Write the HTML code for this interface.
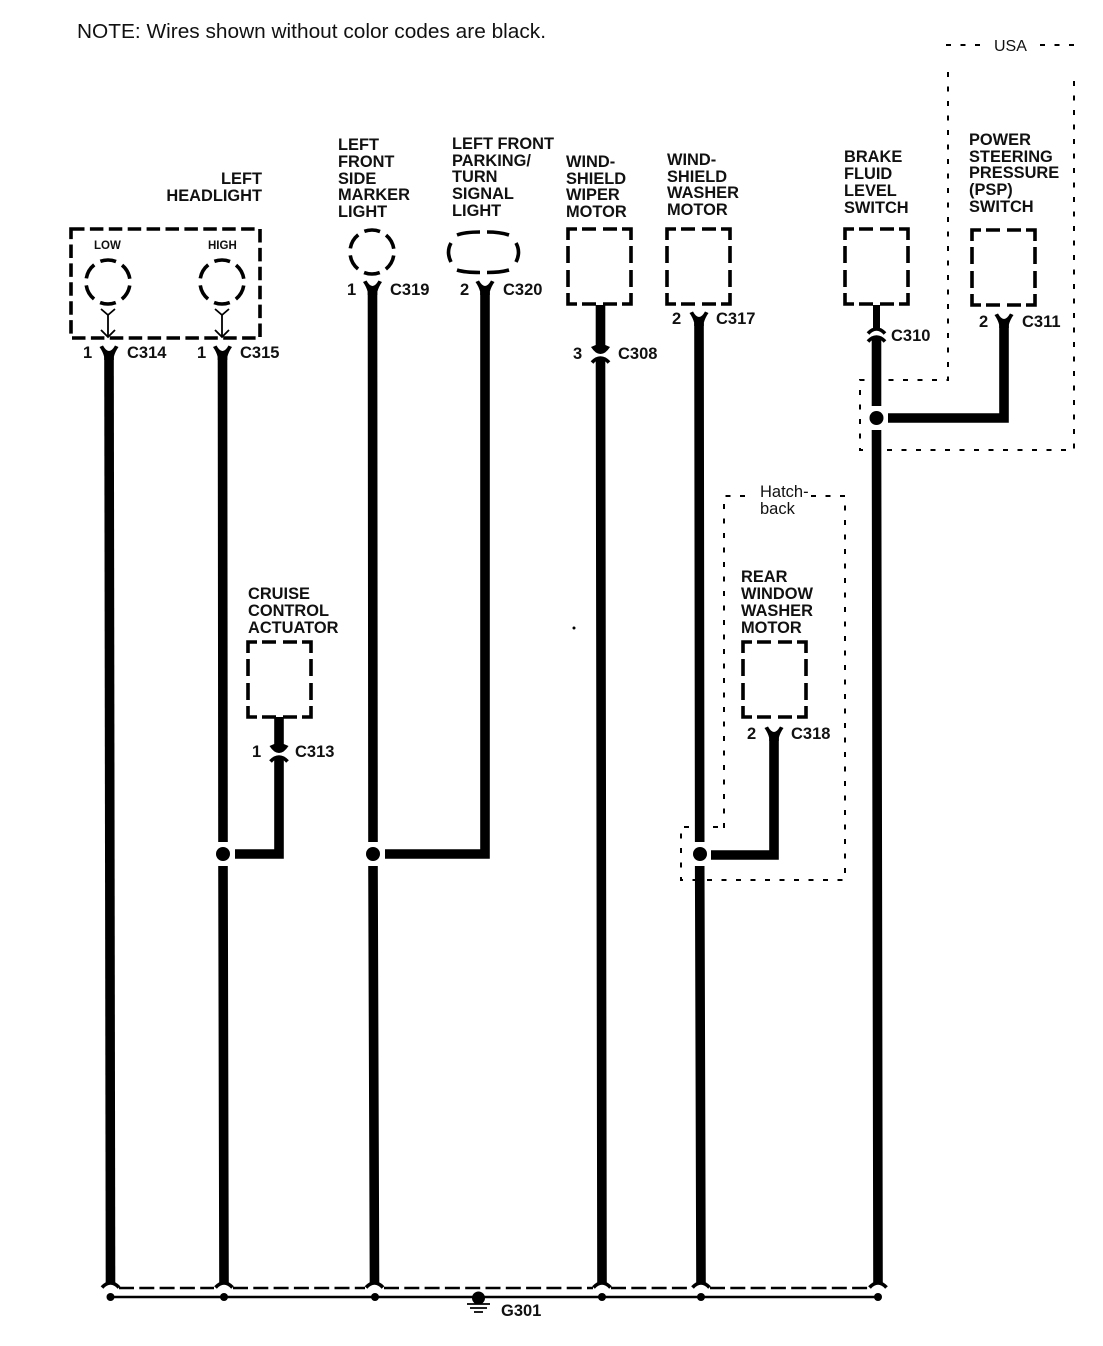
<!DOCTYPE html>
<html><head><meta charset="utf-8"><style>
html,body{margin:0;padding:0;background:#fff}
svg{display:block}
text{font-family:"Liberation Sans",sans-serif;fill:#111}
.b{font-weight:bold;font-size:16.4px}
.c{font-weight:bold;font-size:16.5px}
.w{stroke:#000;fill:none;stroke-width:9.600}
.box{stroke:#000;fill:none;stroke-width:3.600;stroke-dasharray:13.500 5.400}
.circ{stroke:#000;fill:none;stroke-width:3.600;stroke-dasharray:16 7.040;stroke-dashoffset:19.500}
.d{stroke:#000;fill:none;stroke-width:2;stroke-dasharray:5 9.500}
</style></head><body>
<svg width="1103" height="1346" viewBox="0 0 1103 1346" xmlns="http://www.w3.org/2000/svg">
<defs>
<path id="yy" d="M-9.500,-4 L-6,-5.500 Q-3,0 0,0 Q3,0 6,-5.500 L9.500,-4 Q6,1 4.800,6 V9 H-4.800 V6 Q-6,1 -9.500,-4Z" fill="#000"/>
<path id="uu" d="M-9.500,-7 Q-5,0 0,0 Q5,0 9.500,-7 L4.800,-9 H-4.800Z" fill="#000"/>
<path id="ff" d="M-8.500,4.500 Q-4.500,0 0,0 Q4.500,0 8.500,4.500" stroke="#000" stroke-width="3.600" fill="none"/>
<path id="bx" fill="none" stroke="#000" stroke-width="3.600" d="M0,11V0H9M14,0H28M35,0H49M54,0H63V11M63,17V34M63,41V58M63,64V75H54M49,75H35M28,75H14M9,75H0V64M0,58V41M0,34V17"/>
</defs>
<text x="77" y="38" font-size="20.600" textLength="469" lengthAdjust="spacingAndGlyphs">NOTE: Wires shown without color codes are black.</text>

<!-- USA dashed -->
<path class="d" d="M946,45H985M1040,45H1074"/>
<path class="d" d="M948,72V380H860V450H1074V72"/>
<text x="994" y="51" font-size="16">USA</text>

<!-- Hatchback dashed -->
<path class="d" d="M724,828V496H752M811,496H845V880H681V827H724"/>
<text x="760" y="497" font-size="16.500">Hatch-</text>
<text x="760" y="514" font-size="16.500">back</text>

<!-- Labels -->
<g class="b">
<text x="262" y="184" text-anchor="end">LEFT</text>
<text x="262" y="201" text-anchor="end">HEADLIGHT</text>
<text x="338" y="150">LEFT</text><text x="338" y="167">FRONT</text><text x="338" y="184">SIDE</text><text x="338" y="200">MARKER</text><text x="338" y="217">LIGHT</text>
<text x="452" y="149">LEFT FRONT</text><text x="452" y="166">PARKING/</text><text x="452" y="182">TURN</text><text x="452" y="199">SIGNAL</text><text x="452" y="216">LIGHT</text>
<text x="566" y="167">WIND-</text><text x="566" y="184">SHIELD</text><text x="566" y="200">WIPER</text><text x="566" y="217">MOTOR</text>
<text x="667" y="165">WIND-</text><text x="667" y="182">SHIELD</text><text x="667" y="198">WASHER</text><text x="667" y="215">MOTOR</text>
<text x="844" y="162">BRAKE</text><text x="844" y="179">FLUID</text><text x="844" y="196">LEVEL</text><text x="844" y="213">SWITCH</text>
<text x="969" y="145">POWER</text><text x="969" y="162">STEERING</text><text x="969" y="178">PRESSURE</text><text x="969" y="195">(PSP)</text><text x="969" y="212">SWITCH</text>
<text x="248" y="599">CRUISE</text><text x="248" y="616">CONTROL</text><text x="248" y="633">ACTUATOR</text>
<text x="741" y="582">REAR</text><text x="741" y="599">WINDOW</text><text x="741" y="616">WASHER</text><text x="741" y="633">MOTOR</text>
</g>
<text x="94" y="249" font-size="11.500" font-weight="bold">LOW</text>
<text x="208" y="249" font-size="11.500" font-weight="bold">HIGH</text>

<!-- Component outlines -->
<rect class="box" x="71" y="229" width="189" height="109"/>
<circle class="circ" cx="108" cy="282" r="22"/>
<circle class="circ" cx="222" cy="282" r="22"/>
<circle class="circ" cx="372" cy="252" r="22"/>
<path d="M457,235Q465,232 480,232M487,232Q500,232 509,235M457,270Q465,272.500 480,272.500M487,272.500Q500,272.500 509,270M451,243Q446,252 451,262M516,243Q521,252 516,262" stroke="#000" stroke-width="3.600" fill="none"/>
<use href="#bx" x="568" y="229"/>
<use href="#bx" x="667" y="229"/>
<use href="#bx" x="845" y="229"/>
<use href="#bx" x="972" y="230"/>
<use href="#bx" x="248" y="642"/>
<use href="#bx" x="743" y="642"/>

<!-- Headlight inner connectors -->
<g stroke="#000" stroke-width="1.800" fill="none">
<path d="M101,309L108,315L115,309M108,315V337M101,330L108,337L115,330"/>
<path d="M215,309L222,315L229,309M222,315V337M215,330L222,337L229,330"/>
</g>

<!-- Thick wires -->
<path class="w" d="M109,356L110.500,1284"/>
<path class="w" d="M222.500,356L223,842M223,866L224,1284"/>
<path class="w" d="M372.500,292L373,842M373,866L374.500,1284"/>
<path class="w" d="M485,292V854H385"/>
<path class="w" d="M600.500,305V345M600.500,358L602,1284"/>
<path class="w" d="M699,323L699.700,842M699.700,866L701,1284"/>
<path class="w" d="M876.500,338V406M876.500,430L878,1284"/>
<path class="w" d="M876.500,305V328" style="stroke-width:7"/>
<path class="w" d="M1004,323V418H888"/>
<path class="w" d="M279,717V745M279,758V854H235"/>
<path class="w" d="M774,735V855H711"/>

<!-- Connector symbols -->
<use href="#yy" x="109" y="351"/><use href="#yy" x="222.500" y="351"/>
<use href="#yy" x="372.500" y="286"/><use href="#yy" x="485" y="286"/>
<use href="#yy" x="699" y="317"/><use href="#yy" x="1004" y="319"/>
<use href="#yy" x="774" y="732"/>
<use href="#uu" x="600.500" y="354"/><use href="#ff" x="600.500" y="358"/>
<use href="#uu" x="279" y="753"/><use href="#ff" x="279" y="757"/>
<use href="#ff" x="876.500" y="329"/><use href="#ff" x="876.500" y="337"/>

<!-- Connector labels -->
<g class="c">
<text x="83" y="358">1</text><text x="127" y="358">C314</text>
<text x="197" y="358">1</text><text x="240" y="358">C315</text>
<text x="347" y="295">1</text><text x="390" y="295">C319</text>
<text x="460" y="295">2</text><text x="503" y="295">C320</text>
<text x="573" y="359">3</text><text x="618" y="359">C308</text>
<text x="672" y="324">2</text><text x="716" y="324">C317</text>
<text x="891" y="341">C310</text>
<text x="979" y="327">2</text><text x="1022" y="327">C311</text>
<text x="252" y="757">1</text><text x="295" y="757">C313</text>
<text x="747" y="739">2</text><text x="791" y="739">C318</text>
<text x="501" y="1316">G301</text>
</g>

<!-- Junctions -->
<circle cx="876.500" cy="418" r="7"/>
<circle cx="223" cy="854" r="7"/>
<circle cx="373" cy="854" r="7"/>
<circle cx="700" cy="854" r="7"/>

<!-- Ground bus -->
<path d="M119,1288H214M233,1288H365M384,1288H593M611,1288H692M710,1288H869" stroke="#000" stroke-width="2.400" stroke-dasharray="15 5.300" fill="none"/>
<path d="M110,1297H878" stroke="#000" stroke-width="2.400" fill="none"/>
<g>
<use href="#ff" x="110.500" y="1283"/><use href="#ff" x="224" y="1283"/><use href="#ff" x="374.500" y="1283"/>
<use href="#ff" x="602" y="1283"/><use href="#ff" x="701" y="1283"/><use href="#ff" x="878" y="1283"/>
<circle cx="110.500" cy="1297" r="4"/><circle cx="224" cy="1297" r="4"/><circle cx="375" cy="1297" r="4"/>
<circle cx="602" cy="1297" r="4"/><circle cx="701" cy="1297" r="4"/><circle cx="878" cy="1297" r="4"/>
<circle cx="478.500" cy="1298" r="6.500"/>
<path d="M467,1304H490M470,1308H487M474,1312H483" stroke="#000" stroke-width="1.800"/>
</g>
<circle cx="574" cy="628" r="1.500"/>
</svg>
</body></html>
